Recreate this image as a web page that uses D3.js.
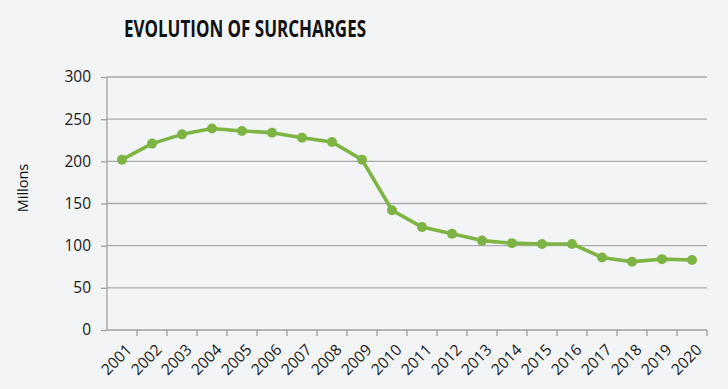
<!DOCTYPE html>
<html>
<head>
<meta charset="utf-8">
<script src="https://cdn.jsdelivr.net/npm/d3@7"></script>
<style>
  body { margin: 0; background: #f3f4f6; }
  svg { display: block; font-family: "Open Sans", "Liberation Sans", sans-serif; }
  .tick text { fill: #1a1a1a; font-size: 15.5px; font-family: "Open Sans", sans-serif; }
  .grid line { stroke: #ababab; stroke-width: 1.3; }
</style>
</head>
<body>
<svg id="chart" width="728" height="389"></svg>
<script>
const years = ["2001", "2002", "2003", "2004", "2005", "2006", "2007", "2008", "2009", "2010",
  "2011", "2012", "2013", "2014", "2015", "2016", "2017", "2018", "2019", "2020"];
const surcharges = [202, 221, 232, 239, 236, 234, 228, 223, 202, 142,
  122, 114, 106, 103, 102, 102, 86, 81, 84, 83];
const yTicks = [0, 50, 100, 150, 200, 250, 300];

const svg = d3.select("#chart");
const margin = { top: 77, right: 21, bottom: 59, left: 107 };
const width = +svg.attr("width");
const height = +svg.attr("height");

const x = d3.scaleBand().domain(years).range([margin.left, width - margin.right]);
const y = d3.scaleLinear().domain([0, 300]).range([height - margin.bottom, margin.top]);

svg.append("rect").attr("width", width).attr("height", height).attr("fill", "#f3f4f6");

// grid
svg.append("g")
  .attr("class", "grid")
  .selectAll("line")
  .data(yTicks.slice(1))
  .join("line")
  .attr("x1", margin.left)
  .attr("x2", width - margin.right)
  .attr("y1", (d) => y(d))
  .attr("y2", (d) => y(d));

// y axis
const yAxis = svg.append("g")
  .attr("transform", `translate(${margin.left},0)`)
  .call(d3.axisLeft(y).tickValues(yTicks).tickSize(6).tickPadding(10));
yAxis.selectAll("line, path").attr("stroke", "#a0a0a0").attr("stroke-width", 1.3);
yAxis.select(".domain").attr("d", `M0,${y(0) + 0}V${y(300)}`);

// x axis
const xAxis = svg.append("g")
  .attr("transform", `translate(0,${y(0)})`)
  .call(d3.axisBottom(x).tickSize(0).tickSizeOuter(0));
xAxis.selectAll("line, path").attr("stroke", "#a0a0a0").attr("stroke-width", 1.3);
xAxis.select(".domain").attr("d", `M${margin.left},0H${width - margin.right}`);
xAxis.selectAll(".tick text")
  .attr("text-anchor", "end")
  .attr("dy", "0.35em")
  .attr("y", 0)
  .attr("transform", "translate(7,17) rotate(-45)");

// category boundary ticks
svg.append("g")
  .selectAll("line")
  .data(years)
  .join("line")
  .attr("x1", (d) => x(d) + x.bandwidth())
  .attr("x2", (d) => x(d) + x.bandwidth())
  .attr("y1", y(0))
  .attr("y2", y(0) + 6)
  .attr("stroke", "#a0a0a0")
  .attr("stroke-width", 1.3);

// line + markers
const cx = (d, i) => x(years[i]) + x.bandwidth() / 2;
const line = d3.line().x(cx).y((d) => y(d));
svg.append("path")
  .datum(surcharges)
  .attr("fill", "none")
  .attr("stroke", "#7db444")
  .attr("stroke-width", 3.6)
  .attr("stroke-linejoin", "round")
  .attr("d", line);

svg.append("g")
  .selectAll("circle")
  .data(surcharges)
  .join("circle")
  .attr("cx", cx)
  .attr("cy", (d) => y(d))
  .attr("r", 5)
  .attr("fill", "#7db444");

// title
svg.append("text")
  .attr("x", 245)
  .attr("y", 37)
  .attr("text-anchor", "middle")
  .attr("font-weight", "bold")
  .attr("font-size", 24)
  .attr("fill", "#111")
  .attr("textLength", 242)
  .attr("lengthAdjust", "spacingAndGlyphs")
  .text("EVOLUTION OF SURCHARGES");

// y label
svg.append("text")
  .attr("transform", "translate(28,188) rotate(-90)")
  .attr("text-anchor", "middle")
  .attr("font-size", 14.5)
  .attr("fill", "#111")
  .text("Millons");
</script>
</body>
</html>
